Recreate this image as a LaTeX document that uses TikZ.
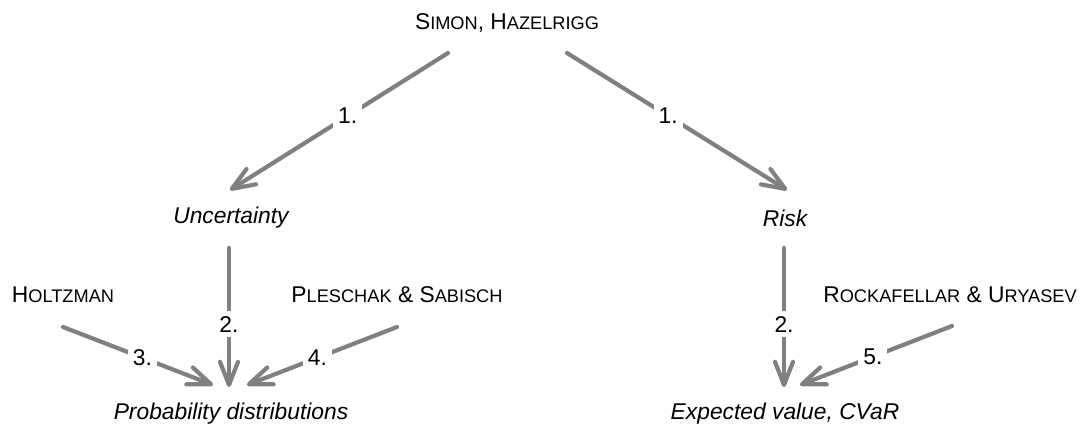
\documentclass[tikz,border=0pt]{standalone}
\usepackage{fontspec}
\setmainfont{Liberation Sans}
\usetikzlibrary{arrows.meta,calc}
\definecolor{arrgray}{RGB}{128,128,128}
\newcommand{\smc}[1]{{\fontsize{9.1}{11}\selectfont #1}}

\begin{document}
\begin{tikzpicture}[
  x=0.5pt, y=-0.5pt,
  author/.style={font=\fontsize{11.4}{13.7}\selectfont, inner sep=0pt},
  concept/.style={font=\fontsize{11.4}{13.7}\selectfont\itshape, inner sep=0pt},
  link/.style={draw=arrgray, line width=2.1pt, line cap=round,
    -{Straight Barb[length=11.5pt, width=9pt, round]}},
  num/.style={fill=white, inner sep=2.5pt, font=\fontsize{11.4}{13.7}\selectfont}
]
  \useasboundingbox (0,0) rectangle (1085,428);

  % Top: source
  \node[author] (simon) at (507,23) {S\smc{IMON}, H\smc{AZELRIGG}};

  % Row 1: concepts
  \node[concept] (unc) at (231,218) {Uncertainty};
  \node[concept] (risk) at (785,218) {Risk};

  % Row 2: authors
  \node[author] (holtz) at (63,295) {H\smc{OLTZMAN}};
  \node[author] (plesch) at (397,295) {P\smc{LESCHAK} \& S\smc{ABISCH}};
  \node[author] (rock) at (950,295) {R\smc{OCKAFELLAR} \& U\smc{RYASEV}};

  % Row 3: measures
  \node[concept] (prob) at (231,414) {Probability distributions};
  \node[concept] (expv) at (785,414) {Expected value, CVaR};

  % Links
  \draw[link] ($(simon)+(-59,30)$) -- node[num, pos=0.46] {1.} ($(unc)+(-1,-28)$);
  \draw[link] ($(simon)+(60,30)$) -- node[num, pos=0.46] {1.} ($(risk)+(2,-28)$);
  \draw[link] ($(unc)+(-2,30)$) -- node[num, pos=0.55] {2.} ($(prob)+(-2,-27)$);
  \draw[link] ($(risk)+(-1,30)$) -- node[num, pos=0.55] {2.} ($(expv)+(-1,-27)$);
  \draw[link] ($(holtz)+(0,32)$) -- node[num, pos=0.53] {3.} ($(prob)+(-18,-29)$);
  \draw[link] ($(plesch)+(0,32)$) -- node[num, pos=0.53] {4.} ($(prob)+(16,-29)$);
  \draw[link] ($(rock)+(2,31)$) -- node[num, pos=0.52] {5.} ($(expv)+(15,-29)$);
\end{tikzpicture}
\end{document}
